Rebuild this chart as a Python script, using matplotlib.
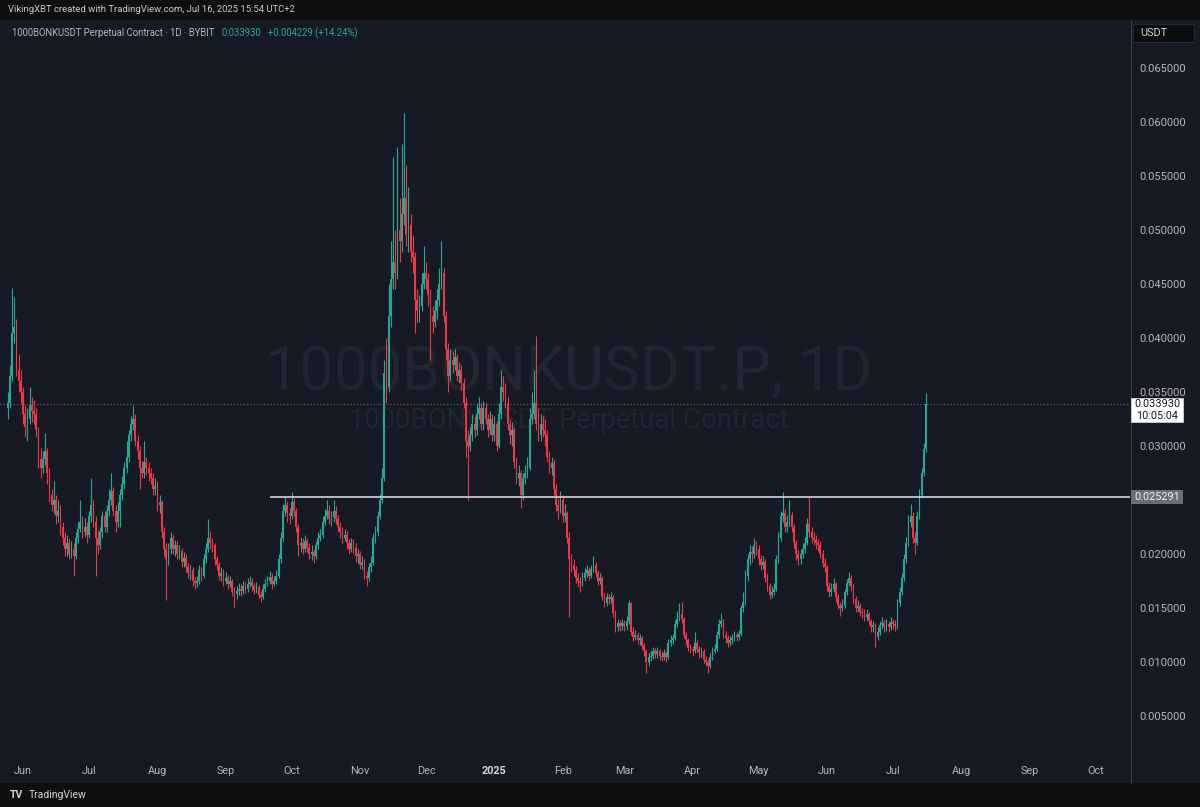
import numpy as np
import pandas as pd
import matplotlib
matplotlib.use("Agg")
import matplotlib.pyplot as plt
import matplotlib.dates as mdates
from matplotlib.patches import Rectangle

# ---------------- data (prices in 0.001 USDT) ----------------
start_date = "2024-05-25"
first_open_milli = 33.5
close_milli = [
    34.0, 36.5, 40.5, 41.0, 37.0, 36.0, 35.0, 33.0, 31.8, 32.5,
    33.8, 33.2, 33.0, 31.5, 28.8, 28.0, 28.8, 29.5, 27.5, 25.5,
    24.5, 25.0, 23.5, 24.0, 22.5, 21.5, 20.5, 21.0, 20.0, 20.5,
    19.8, 21.5, 22.3, 23.0, 22.0, 22.5, 21.8, 23.5, 24.5, 23.0,
    21.5, 20.8, 22.0, 23.5, 22.5, 24.0, 25.0, 25.8, 24.0, 23.0,
    24.0, 25.5, 26.5, 28.0, 29.0, 31.0, 32.0, 32.5, 30.5, 29.5,
    28.0, 27.5, 28.5, 28.0, 27.5, 27.0, 26.0, 26.3, 24.5, 24.8,
    22.0, 20.5, 19.5, 20.5, 21.5, 20.5, 20.8, 20.0, 20.3, 19.3,
    19.6, 18.8, 18.2, 18.5, 17.5, 17.3, 17.5, 18.5, 18.0, 19.5,
    20.5, 21.5, 21.0, 20.8, 19.5, 19.0, 18.0, 18.2, 17.5, 17.8,
    17.2, 17.5, 16.5, 16.3, 16.6, 16.8, 16.6, 17.0, 16.8, 17.2,
    17.4, 17.0, 16.7, 16.9, 16.2, 16.0, 16.8, 17.2, 17.5, 17.9,
    17.2, 17.5, 18.0, 19.5, 21.5, 24.0, 24.5, 23.8, 23.5, 24.8,
    24.0, 22.5, 20.8, 21.0, 20.5, 21.2, 20.6, 20.0, 20.2, 19.8,
    20.8, 21.5, 21.8, 23.0, 23.5, 24.0, 23.2, 23.4, 24.0, 23.2,
    22.5, 22.0, 21.5, 21.8, 21.0, 20.5, 21.0, 20.6, 19.8, 20.0,
    19.0, 19.3, 18.0, 17.8, 18.8, 19.2, 21.5, 22.0, 23.5, 25.0,
    27.0, 36.8, 35.5, 42.0, 45.5, 47.0, 46.0, 50.0, 49.0, 51.5,
    53.0, 49.5, 50.5, 48.0, 47.5, 43.5, 42.5, 43.0, 45.0, 46.0,
    45.5, 44.0, 42.0, 41.5, 42.5, 43.5, 45.0, 46.0, 42.0, 39.0,
    36.5, 38.0, 37.5, 38.2, 36.5, 37.0, 35.8, 34.0, 30.5, 30.0,
    31.0, 32.0, 31.5, 33.0, 33.5, 32.0, 33.5, 32.5, 31.5, 32.5,
    31.0, 32.0, 30.0, 33.0, 35.5, 35.0, 34.0, 32.0, 31.0, 31.5,
    28.5, 27.0, 27.5, 25.5, 27.0, 27.5, 28.0, 32.5, 33.0, 34.0,
    32.0, 31.0, 32.0, 31.5, 31.0, 29.0, 28.0, 28.4, 26.0, 24.5,
    24.0, 25.0, 23.5, 23.8, 21.5, 19.5, 19.0, 18.5, 17.8, 17.5,
    17.3, 17.8, 18.2, 18.5, 18.0, 18.6, 19.0, 18.2, 17.5, 17.8,
    16.0, 15.5, 16.0, 15.8, 16.0, 14.5, 13.2, 13.6, 13.3, 13.6,
    13.3, 13.8, 15.5, 12.8, 12.3, 12.5, 12.0, 12.2, 11.5, 11.0,
    10.0, 10.5, 10.6, 11.0, 10.7, 11.0, 10.6, 10.5, 10.8, 10.5,
    11.8, 12.0, 12.2, 13.5, 14.0, 14.4, 14.0, 12.5, 12.0, 11.3,
    11.2, 11.0, 11.8, 11.2, 10.8, 11.0, 10.2, 10.0, 9.6, 10.5,
    11.0, 11.2, 12.5, 13.5, 13.8, 12.5, 12.2, 11.8, 12.0, 12.2,
    12.5, 12.3, 12.6, 15.0, 15.6, 18.0, 19.5, 20.2, 20.0, 20.8,
    20.5, 19.5, 19.0, 19.3, 17.8, 17.0, 16.2, 16.5, 16.8, 19.5,
    21.5, 23.5, 23.8, 22.5, 23.0, 23.6, 22.5, 21.0, 20.0, 19.5,
    20.0, 20.5, 21.0, 22.8, 22.0, 21.5, 21.3, 21.0, 20.8, 20.0,
    19.2, 18.8, 17.0, 16.5, 16.8, 17.2, 16.0, 15.3, 15.0, 15.3,
    16.5, 17.3, 17.8, 17.0, 15.8, 15.0, 15.2, 14.6, 14.5, 14.2,
    14.4, 13.8, 13.2, 13.4, 12.3, 12.8, 13.4, 13.6, 13.2, 13.5,
    13.2, 13.7, 13.5, 13.3, 15.5, 16.5, 17.8, 19.5, 21.0, 23.0,
    23.5, 21.5, 21.0, 23.5, 25.5, 27.5, 29.701, 33.93,
]
high_milli = [
    35.0, 37.5, 44.6, 43.8, 41.8, 38.5, 37.0, 35.5, 33.8, 33.5,
    35.5, 34.5, 34.3, 33.5, 31.8, 29.8, 29.5, 31.2, 29.8, 28.0,
    26.0, 26.8, 25.5, 25.0, 24.5, 23.0, 22.0, 21.8, 21.5, 21.2,
    21.0, 22.0, 23.0, 25.0, 23.5, 23.3, 23.0, 24.0, 27.0, 25.0,
    23.5, 22.2, 22.5, 24.0, 24.0, 24.5, 26.0, 27.5, 26.2, 24.5,
    24.8, 26.0, 27.2, 28.5, 30.5, 31.5, 32.8, 33.8, 33.0, 31.0,
    30.0, 28.6, 30.5, 29.0, 28.5, 28.0, 27.5, 27.0, 26.8, 25.5,
    25.0, 22.5, 21.0, 21.0, 22.0, 21.8, 21.3, 21.2, 20.8, 20.6,
    20.2, 20.0, 19.2, 19.0, 18.8, 17.9, 18.0, 19.0, 18.8, 20.0,
    21.0, 23.2, 22.0, 21.5, 21.0, 19.8, 19.3, 18.8, 18.6, 18.3,
    18.1, 18.0, 17.7, 16.9, 17.0, 17.3, 17.2, 17.5, 17.4, 17.8,
    18.0, 17.8, 17.3, 17.4, 17.1, 16.6, 17.2, 17.7, 18.0, 18.4,
    18.2, 18.0, 18.5, 20.0, 22.0, 24.6, 25.3, 24.9, 24.3, 25.7,
    25.2, 24.3, 22.8, 21.6, 21.5, 21.8, 21.5, 21.0, 20.8, 20.5,
    21.2, 22.0, 22.3, 23.5, 24.2, 25.0, 24.5, 24.0, 25.0, 24.4,
    23.6, 23.0, 22.5, 22.3, 22.1, 21.4, 21.5, 21.4, 21.0, 20.5,
    20.3, 19.8, 19.5, 18.4, 19.2, 19.8, 21.9, 22.6, 24.0, 25.6,
    28.0, 38.0, 40.0, 45.0, 49.0, 56.8, 50.0, 57.7, 53.0, 58.0,
    60.8, 56.0, 54.0, 51.5, 49.5, 48.0, 44.5, 44.0, 46.0, 48.5,
    47.0, 46.0, 44.5, 43.0, 43.5, 44.5, 46.5, 49.0, 46.5, 42.5,
    39.5, 39.0, 38.8, 39.0, 38.5, 37.8, 37.5, 36.3, 34.5, 31.5,
    31.8, 33.0, 32.8, 34.0, 34.5, 34.0, 34.2, 34.0, 33.0, 33.2,
    33.0, 32.8, 32.3, 34.0, 37.0, 36.5, 35.8, 34.5, 32.5, 32.2,
    31.8, 29.0, 28.2, 27.8, 27.5, 28.2, 29.0, 33.5, 35.0, 37.0,
    40.2, 33.5, 33.0, 32.8, 32.5, 31.5, 29.5, 29.0, 28.8, 26.5,
    25.2, 25.8, 25.5, 24.6, 24.0, 22.0, 20.0, 19.5, 18.9, 18.2,
    17.9, 18.3, 18.7, 19.0, 18.8, 19.0, 19.8, 19.3, 18.5, 18.2,
    18.0, 16.4, 16.4, 16.3, 16.5, 16.2, 14.8, 14.0, 13.9, 14.0,
    13.9, 14.3, 15.7, 15.6, 13.2, 13.0, 12.8, 12.6, 12.4, 11.8,
    11.2, 10.9, 11.0, 11.4, 11.3, 11.4, 11.2, 11.0, 11.2, 11.0,
    12.1, 12.5, 12.6, 13.9, 14.7, 15.5, 15.6, 14.2, 12.8, 12.2,
    11.7, 11.5, 12.8, 12.0, 11.5, 11.4, 11.2, 10.6, 10.3, 10.8,
    11.4, 11.7, 12.9, 14.0, 14.5, 14.0, 12.9, 12.5, 12.4, 12.6,
    12.9, 12.8, 13.0, 15.3, 16.5, 18.5, 20.0, 20.8, 20.7, 21.5,
    21.2, 20.8, 19.9, 19.8, 19.5, 18.2, 17.3, 17.0, 17.3, 19.9,
    22.0, 24.0, 25.7, 24.2, 23.6, 25.0, 23.9, 22.8, 21.3, 20.4,
    20.5, 21.0, 21.6, 23.3, 25.3, 22.5, 22.0, 21.8, 21.4, 21.2,
    20.4, 19.6, 19.0, 17.4, 17.3, 17.8, 17.4, 16.3, 15.6, 15.8,
    16.8, 17.7, 18.3, 18.1, 17.2, 16.1, 15.7, 15.5, 15.0, 14.9,
    14.9, 14.6, 14.0, 13.8, 13.6, 13.2, 13.8, 14.2, 13.9, 14.0,
    13.8, 14.2, 14.0, 13.9, 15.8, 16.9, 18.2, 20.0, 21.6, 23.6,
    24.6, 23.9, 22.0, 24.0, 26.0, 28.0, 30.3, 34.9,
]
low_milli = [
    32.5, 33.5, 36.0, 39.5, 36.5, 35.0, 34.0, 32.0, 30.8, 30.5,
    32.0, 32.2, 32.0, 30.8, 28.0, 27.0, 27.5, 28.2, 26.5, 24.8,
    24.0, 23.8, 22.8, 23.0, 21.8, 20.8, 19.8, 19.8, 19.5, 19.6,
    18.0, 19.5, 21.0, 22.0, 21.5, 21.6, 21.0, 21.5, 23.0, 22.5,
    18.0, 20.0, 20.5, 21.5, 22.0, 22.0, 23.5, 24.5, 23.5, 22.0,
    22.5, 22.5, 25.0, 26.0, 27.5, 28.5, 30.5, 31.5, 30.0, 28.8,
    26.0, 27.0, 27.0, 27.3, 26.8, 26.5, 25.5, 25.5, 24.0, 23.8,
    21.5, 19.8, 15.7, 19.0, 20.0, 20.0, 19.8, 19.5, 19.5, 18.8,
    18.8, 18.3, 17.8, 17.6, 17.0, 16.8, 16.9, 17.2, 17.5, 17.8,
    19.2, 20.2, 20.5, 20.2, 19.0, 18.5, 17.6, 17.5, 17.0, 17.2,
    16.8, 16.9, 16.1, 15.1, 15.8, 16.2, 16.1, 16.3, 16.4, 16.5,
    16.9, 16.6, 16.3, 16.4, 15.9, 15.6, 15.8, 16.5, 17.0, 17.2,
    16.8, 17.0, 17.2, 17.8, 19.2, 21.2, 23.5, 23.0, 22.8, 23.2,
    23.5, 22.0, 19.8, 20.2, 20.0, 20.2, 20.2, 19.5, 19.4, 19.2,
    19.5, 20.5, 21.2, 21.5, 22.7, 23.2, 22.8, 22.6, 23.0, 22.8,
    22.0, 21.5, 21.0, 21.2, 20.5, 20.0, 20.2, 20.1, 19.3, 19.2,
    18.6, 18.6, 17.7, 17.0, 17.5, 18.3, 19.0, 21.0, 21.7, 23.2,
    24.7, 26.8, 34.0, 35.0, 41.0, 44.5, 44.5, 45.5, 47.0, 48.0,
    50.5, 48.5, 48.0, 47.0, 46.0, 40.5, 41.5, 41.5, 42.5, 44.5,
    44.5, 43.0, 38.0, 40.5, 41.0, 41.8, 43.0, 44.5, 41.5, 38.0,
    35.0, 36.0, 36.8, 37.0, 36.0, 35.8, 35.2, 33.5, 29.0, 25.0,
    29.5, 30.5, 30.8, 31.0, 32.5, 31.5, 31.5, 32.0, 30.8, 31.0,
    30.5, 30.5, 29.5, 29.8, 32.5, 34.2, 33.5, 31.5, 30.2, 30.0,
    28.0, 26.5, 26.3, 24.3, 25.0, 26.5, 27.0, 27.8, 32.0, 32.5,
    31.5, 30.5, 30.5, 30.8, 30.0, 28.5, 27.5, 27.3, 25.5, 24.0,
    23.2, 23.8, 23.0, 23.0, 21.0, 14.2, 18.3, 18.0, 17.3, 16.9,
    16.5, 17.0, 17.5, 17.9, 17.6, 17.8, 18.3, 17.9, 17.1, 17.2,
    15.7, 15.1, 15.2, 15.4, 15.5, 14.2, 12.8, 12.9, 12.9, 13.0,
    12.9, 13.0, 13.5, 12.5, 11.9, 12.0, 11.7, 11.6, 11.2, 10.6,
    9.0, 9.6, 10.1, 10.3, 10.4, 10.4, 10.2, 10.1, 10.2, 10.0,
    10.3, 11.5, 11.7, 12.0, 13.2, 13.8, 13.6, 12.2, 11.6, 11.0,
    10.8, 10.6, 10.8, 10.9, 10.4, 10.5, 9.9, 9.6, 9.0, 9.4,
    10.2, 10.8, 11.0, 12.2, 13.2, 12.2, 11.8, 11.4, 11.5, 11.7,
    11.9, 11.9, 12.0, 12.4, 14.6, 15.3, 17.5, 19.0, 19.3, 19.6,
    19.9, 19.0, 18.5, 18.6, 17.4, 16.6, 15.8, 15.9, 16.2, 16.6,
    19.2, 21.2, 23.0, 22.0, 22.0, 22.6, 22.0, 20.6, 19.4, 19.0,
    19.1, 19.6, 20.1, 20.8, 21.6, 21.0, 20.8, 20.5, 20.3, 19.6,
    18.8, 18.3, 16.6, 16.0, 16.1, 16.5, 15.6, 14.9, 14.3, 14.7,
    15.0, 16.2, 17.0, 16.6, 15.4, 14.6, 14.6, 14.3, 14.1, 13.8,
    13.9, 13.4, 12.8, 12.8, 11.4, 12.0, 12.5, 13.1, 12.8, 12.9,
    12.8, 13.0, 13.1, 12.9, 13.1, 15.2, 16.2, 17.5, 19.2, 20.7,
    22.5, 21.0, 20.0, 20.8, 23.2, 25.2, 27.2, 29.4,
]

price_ticks = [0.005, 0.010, 0.015, 0.020, 0.025, 0.030, 0.035,
               0.040, 0.045, 0.050, 0.055, 0.060, 0.065]
month_ticks = ["2024-06-01", "2024-07-01", "2024-08-01", "2024-09-01",
               "2024-10-01", "2024-11-01", "2024-12-01", "2025-01-01",
               "2025-02-01", "2025-03-01", "2025-04-01", "2025-05-01",
               "2025-06-01", "2025-07-01", "2025-08-01", "2025-09-01",
               "2025-10-01"]
month_labels = ["Jun", "Jul", "Aug", "Sep", "Oct", "Nov", "Dec", "2025",
                "Feb", "Mar", "Apr", "May", "Jun", "Jul", "Aug", "Sep", "Oct"]
level_price = 0.025291
level_start = "2024-09-21"
last_price = 0.033930
last_change = 0.004229
last_change_pct = 14.24
countdown = "10:05:04"

# ---------------- prep ----------------
assert len(close_milli) == len(high_milli) == len(low_milli)
close = np.array(close_milli) / 1000.0
high = np.array(high_milli) / 1000.0
low = np.array(low_milli) / 1000.0
opn = np.concatenate([[first_open_milli / 1000.0], close[:-1]])
dates = pd.date_range(start_date, periods=len(close), freq="D")
x = mdates.date2num(dates)

UP = "#22ab94"
DOWN = "#f23645"
BG = "#161a25"
OUTER = "#0f0f0f"
TXT = "#b2b5be"

W, H = 1200, 807
fig = plt.figure(figsize=(12, 8.07), dpi=100)
fig.patch.set_facecolor(OUTER)

def fx(px):
    return px / W

def fy(py):
    return 1 - py / H

# panel background (chart + axes area)
fig.patches.append(Rectangle((0, fy(783)), 1, fy(20) - fy(783), transform=fig.transFigure,
                             facecolor=BG, edgecolor="none", zorder=-10))

ax = fig.add_axes([0, fy(760), fx(1130), fy(20) - fy(760)])
ax.set_facecolor(BG)
ax.set_zorder(1)
for s in ax.spines.values():
    s.set_visible(False)

x0 = x[0]
ax.set_xlim(x0 - 3.45, x0 + 509.6)
ax.set_ylim(0.000926, 0.069444)

# watermark
ax.text(0.503, 0.523, "1000BONKUSDT.P, 1D", transform=ax.transAxes, ha="center", va="center",
        fontsize=44, color="#222633", family="Roboto", zorder=0)
ax.text(0.503, 0.459, "1000BONKUSDT Perpetual Contract", transform=ax.transAxes, ha="center",
        va="center", fontsize=19.8, color="#222633", family="Roboto", zorder=0)

# candles
up = close >= opn
colors = np.where(up, UP, DOWN)
ax.vlines(x, low, high, colors=colors, linewidth=0.8, zorder=2)
body_lo = np.minimum(opn, close)
body_h = np.maximum(np.abs(close - opn), 0.00008)
ax.bar(x, body_h, bottom=body_lo, width=0.78, color=colors, linewidth=0, zorder=3)

# horizontal level
lx0 = mdates.date2num(pd.Timestamp(level_start))
ax.hlines(level_price, lx0, x0 + 509.6, colors="#c3c6ce", linewidth=1.3, zorder=4)
# last price dotted line
ax.axhline(last_price, color="#6a6d78", linewidth=0.8, linestyle=(0, (1, 2)), zorder=1)

# axes ticks (0.025000 is hidden behind the level label in the reference)
ax.set_yticks(price_ticks, labels=["" if abs(p - 0.025) < 1e-9 else f"{p:.6f}" for p in price_ticks])
ax.yaxis.set_ticks_position("right")
ax.tick_params(axis="y", length=0, pad=7, labelcolor=TXT, labelsize=8)
for t in ax.get_yticklabels():
    t.set_family("Roboto")
ax.set_xticks(mdates.date2num(pd.to_datetime(month_ticks)), labels=month_labels)
ax.tick_params(axis="x", length=0, pad=4, labelcolor=TXT, labelsize=7.8)
for i, t in enumerate(ax.get_xticklabels()):
    t.set_family("Roboto")
    if month_labels[i] == "2025":
        t.set_fontweight("bold")
        t.set_color("#d1d4dc")

# separator lines
fig.add_artist(plt.Line2D([fx(1130.5), fx(1130.5)], [fy(20), fy(783)], transform=fig.transFigure,
                          color="#3a3e4a", linewidth=0.8, zorder=2))

# right-axis labels
ylim = ax.get_ylim()
def py_of(p):
    return 20 + (ylim[1] - p) / (ylim[1] - ylim[0]) * 740

yb = py_of(last_price)
fig.patches.append(Rectangle((fx(1131), fy(yb + 18)), fx(52), fy(yb - 6) - fy(yb + 18),
                             transform=fig.transFigure, facecolor="#ffffff", edgecolor="#cfd1d6",
                             linewidth=0.6, zorder=5))
fig.text(fx(1157), fy(yb + 0.5), f"{last_price:.6f}", ha="center", va="center", fontsize=7.8,
         color="#131722", family="Roboto", zorder=6)
fig.text(fx(1157), fy(yb + 12), countdown, ha="center", va="center", fontsize=7.8,
         color="#131722", family="Roboto", zorder=6)

yl = py_of(level_price)
fig.patches.append(Rectangle((fx(1131), fy(yl + 7)), fx(52), fy(yl - 7) - fy(yl + 7),
                             transform=fig.transFigure, facecolor="#6a6d78", edgecolor="none",
                             zorder=5))
fig.text(fx(1157), fy(yl), f"{level_price:.6f}", ha="center", va="center", fontsize=7.8,
         color="#f0f3fa", family="Roboto", zorder=6)

# USDT box
fig.patches.append(Rectangle((fx(1133), fy(42)), fx(61), fy(24) - fy(42), transform=fig.transFigure,
                             facecolor="#0c0d10", edgecolor="#2a2e39", linewidth=0.6, zorder=5))
fig.text(fx(1140), fy(33), "USDT", ha="left", va="center", fontsize=7.8, color="#d1d4dc",
         family="Roboto", zorder=6)

# header
fig.text(fx(8), fy(10), "VikingXBT created with TradingView.com, Jul 16, 2025 15:54 UTC+2",
         ha="left", va="center", fontsize=6.8, color="#c8cad0", family="Roboto")

# legend line
fig.text(fx(12), fy(33), "1000BONKUSDT Perpetual Contract · 1D · BYBIT", ha="left", va="center",
         fontsize=6.85, color=TXT, family="Roboto", zorder=6)
fig.text(fx(222), fy(33), f"{last_price:.6f}", ha="left", va="center", fontsize=6.85,
         color=UP, family="Roboto", zorder=6)
fig.text(fx(268), fy(33), f"+{last_change:.6f} (+{last_change_pct:.2f}%)", ha="left", va="center",
         fontsize=6.85, color=UP, family="Roboto", zorder=6)

# footer logo
fig.text(fx(10), fy(795), "TV", ha="left", va="center", fontsize=7.5, color="#d1d4dc",
         fontweight="bold", family="Roboto")
fig.text(fx(29), fy(795), "TradingView", ha="left", va="center", fontsize=7.5, color="#d1d4dc",
         family="Roboto")

fig.savefig("out.png", dpi=100, facecolor=fig.get_facecolor())
